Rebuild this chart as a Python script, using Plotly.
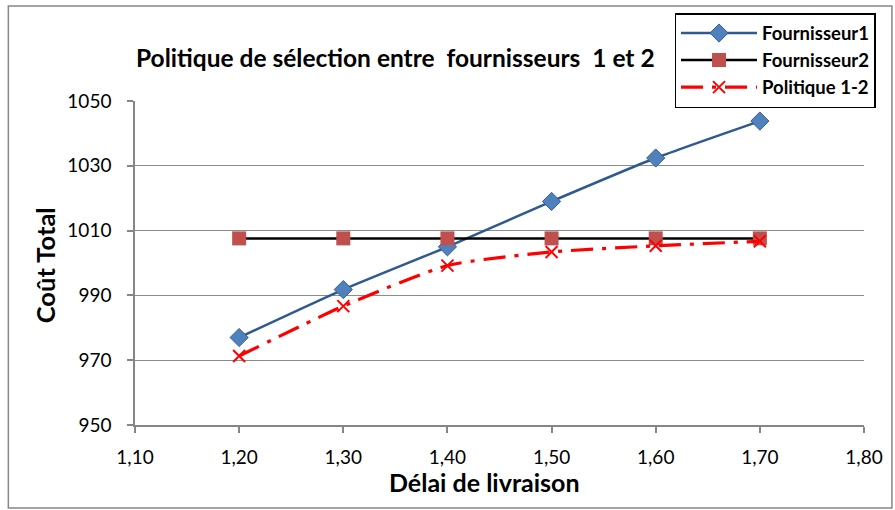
import plotly.graph_objects as go

# Délai de livraison (x) and total cost for each supply option
delai = [1.20, 1.30, 1.40, 1.50, 1.60, 1.70]
fournisseur1 = [977.0, 991.8, 1005.0, 1019.0, 1032.4, 1043.8]
fournisseur2 = [1007.6, 1007.6, 1007.6, 1007.6, 1007.6, 1007.6]
politique_12 = [971.3, 986.7, 999.2, 1003.4, 1005.3, 1006.7]

x_ticks = [1.10, 1.20, 1.30, 1.40, 1.50, 1.60, 1.70, 1.80]
y_ticks = [950, 970, 990, 1010, 1030, 1050]

FONT = "Lato"

fig = go.Figure()
fig.add_trace(go.Scatter(
    x=delai, y=fournisseur1, name="Fournisseur1", mode="lines+markers",
    line=dict(color="#2E5A90", width=2.5, shape="spline", smoothing=0.6),
    marker=dict(symbol="diamond", size=14, color="#4F81BD",
                line=dict(color="#385D8A", width=1)),
))
fig.add_trace(go.Scatter(
    x=delai, y=fournisseur2, name="Fournisseur2", mode="lines+markers",
    line=dict(color="black", width=2.5),
    marker=dict(symbol="square", size=14, color="#C0504D",
                line=dict(color="#C0504D", width=0)),
))
fig.add_trace(go.Scatter(
    x=delai, y=politique_12, name="Politique 1-2", mode="lines+markers",
    line=dict(color="#FF0000", width=3.2, dash="22px,9px,4px,9px",
              shape="spline", smoothing=0.6),
    marker=dict(symbol="x-thin", size=12, color="#FF0000",
                line=dict(color="#FF0000", width=2)),
))

# plot area: x 135..866 px, y 101..425 px
L, R, T, B = 135, 29, 101, 85
W, H = 895, 510
pw, ph = W - L - R, H - T - B

def px(xp):
    return (xp - L) / pw

def py(yp):
    return (H - B - yp) / ph

fig.update_layout(
    width=W, height=H,
    margin=dict(l=L, r=R, t=T, b=B),
    paper_bgcolor="white", plot_bgcolor="white",
    separators=", ",
    font=dict(family=FONT, size=19, color="black"),
    showlegend=True,
    legend=dict(
        x=px(676), y=py(13), xanchor="left", yanchor="top",
        bordercolor="black", borderwidth=1.5, bgcolor="white",
        font=dict(family=FONT, size=18.5, color="black", weight="bold"),
        tracegroupgap=0, itemwidth=76,
    ),
    xaxis=dict(
        range=[1.10, 1.80], tickvals=x_ticks, tickformat=".2f",
        showgrid=False, zeroline=False,
        showline=True, linecolor="#868686", linewidth=1.5,
        ticks="outside", ticklen=6, tickcolor="#868686", tickwidth=1.5,
        ticklabelstandoff=8,
        tickfont=dict(family=FONT, size=19), fixedrange=True,
    ),
    yaxis=dict(
        range=[950, 1050], tickvals=y_ticks,
        showgrid=True, gridcolor="#8C8C8C", gridwidth=1.3, zeroline=False,
        showline=True, linecolor="#868686", linewidth=1.5,
        ticks="outside", ticklen=6, tickcolor="#868686", tickwidth=1.5,
        ticklabelstandoff=12,
        tickfont=dict(family=FONT, size=19), fixedrange=True,
    ),
    shapes=[dict(
        type="rect", xref="paper", yref="paper",
        x0=px(8), x1=px(894), y0=py(508), y1=py(6),
        line=dict(color="#868686", width=1.5), layer="below",
    )],
    annotations=[
        dict(text="Politique de sélection entre  fournisseurs  1 et 2",
             xref="paper", yref="paper", x=px(396), y=py(57),
             xanchor="center", yanchor="middle",
             showarrow=False, font=dict(family=FONT, size=24.5, weight="bold")),
        dict(text="Délai de livraison",
             xref="paper", yref="paper", x=px(485), y=py(482),
             xanchor="center", yanchor="middle",
             showarrow=False, font=dict(family=FONT, size=25, weight="bold")),
        dict(text="Coût Total", textangle=-90,
             xref="paper", yref="paper", x=px(45), y=py(265),
             xanchor="center", yanchor="middle",
             showarrow=False, font=dict(family=FONT, size=25.5, weight="bold")),
    ],
)

fig.write_html("out.html")
